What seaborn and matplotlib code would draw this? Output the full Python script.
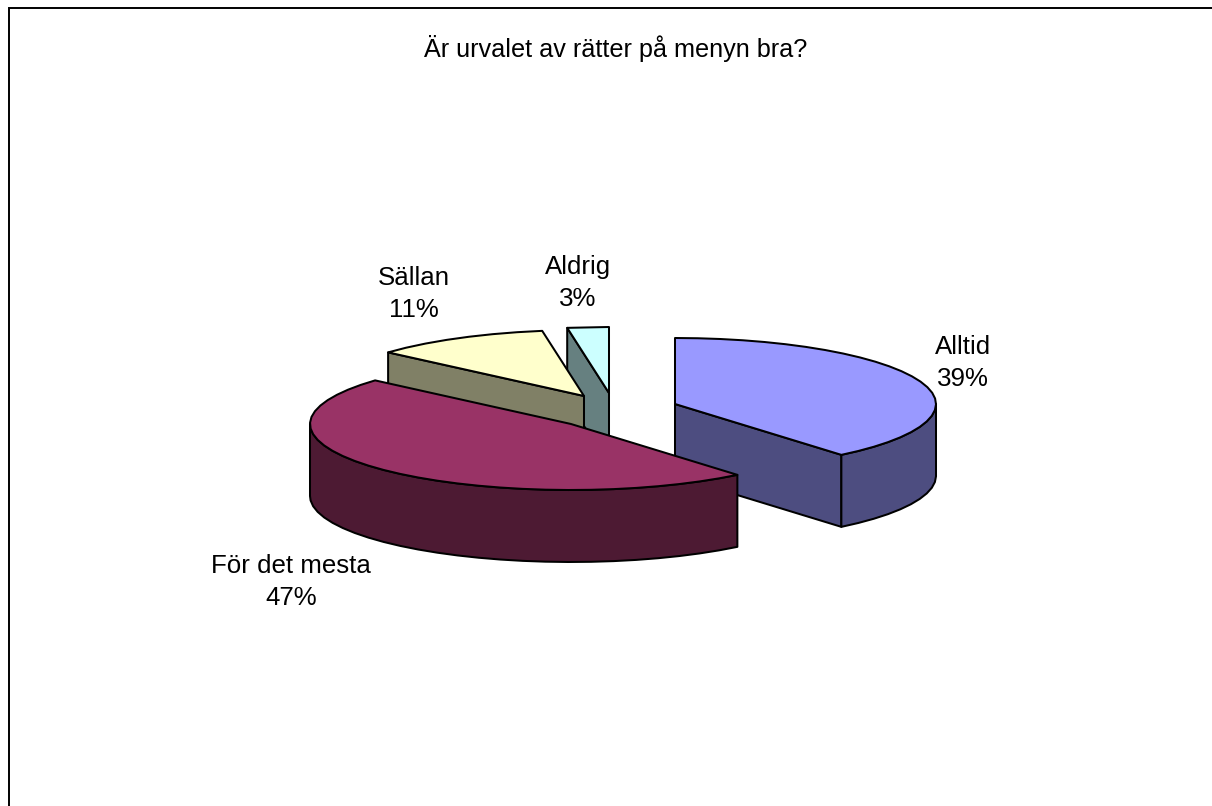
import numpy as np
import matplotlib
matplotlib.use("Agg")
import matplotlib.pyplot as plt
import seaborn as sns

title = "Är urvalet av rätter på menyn bra?"
categories = ["Alltid", "För det mesta", "Sällan", "Aldrig"]
shares = [39.0, 47.49, 10.95, 2.56]

top_colors = ["#9999FF", "#993366", "#FFFFCC", "#CCFFFF"]
side_colors = ["#4D4D80", "#4D1A33", "#808066", "#668080"]

sns.set_theme(style="white")
plt.rcParams["font.family"] = ["Liberation Sans", "DejaVu Sans"]

# layout (pixels of the figure)
W, H = 1212, 806
RX, RY, DEPTH = 261, 66, 72
centres = [(675, 404), (571, 424), (584, 396), (609, 393)]
label_pos = [(963, 363), (291, 582), (414, 294), (578, 283)]
draw_order = [3, 2, 0, 1]
cut_faces = [[1], [], [0], [0]]  # 0 = start edge, 1 = end edge, seen by the viewer
LW = 1.45
STEP = np.deg2rad(5)

fig = plt.figure(figsize=(W / 100, H / 100), dpi=100)
ax = fig.add_axes([0, 0, 1, 1])
ax.set_xlim(0, W)
ax.set_ylim(H, 0)
ax.axis("off")

# frame of the chart area
ax.plot([9, 9, W], [H, 8, 8], color="black", lw=1.4, solid_joinstyle="miter", zorder=1)

cum = np.cumsum([0] + shares) / sum(shares) * 2 * np.pi
style = dict(edgecolor="black", linewidth=LW, joinstyle="round")

for z, i in enumerate(draw_order):
    cx, cy = centres[i]
    a0, a1 = cum[i], cum[i + 1]
    zb = 2 + z * 3
    t = np.linspace(a0, a1, max(2, int((a1 - a0) / STEP) + 1))
    rx = cx + RX * np.sin(t)
    ry = cy - RY * np.cos(t)

    # radial cut faces that look towards the viewer
    for k in cut_faces[i]:
        j = 0 if k == 0 else -1
        ax.fill([cx, rx[j], rx[j], cx], [cy, ry[j], ry[j] + DEPTH, cy + DEPTH],
                facecolor=side_colors[i], zorder=zb, **style)

    # outer wall, only the part on the near half of the rim
    lo, hi = max(a0, np.pi / 2), min(a1, 3 * np.pi / 2)
    if lo < hi:
        wt = np.r_[lo, t[(t > lo) & (t < hi)], hi]
        wx = cx + RX * np.sin(wt)
        wy = cy - RY * np.cos(wt)
        ax.fill(np.r_[wx, wx[::-1]], np.r_[wy, wy[::-1] + DEPTH],
                facecolor=side_colors[i], zorder=zb + 1, **style)

    # top face
    ax.fill(np.r_[cx, rx], np.r_[cy, ry], facecolor=top_colors[i], zorder=zb + 2, **style)

ax.text(616, 48, title, ha="center", va="center", fontsize=18.2, color="black")
for name, share, (lx, ly) in zip(categories, shares, label_pos):
    ax.text(lx, ly, f"{name}\n{round(share)}%", ha="center", va="center",
            fontsize=18.6, color="black", linespacing=1.46, zorder=30)

fig.savefig("out.png", dpi=100, facecolor="white")
